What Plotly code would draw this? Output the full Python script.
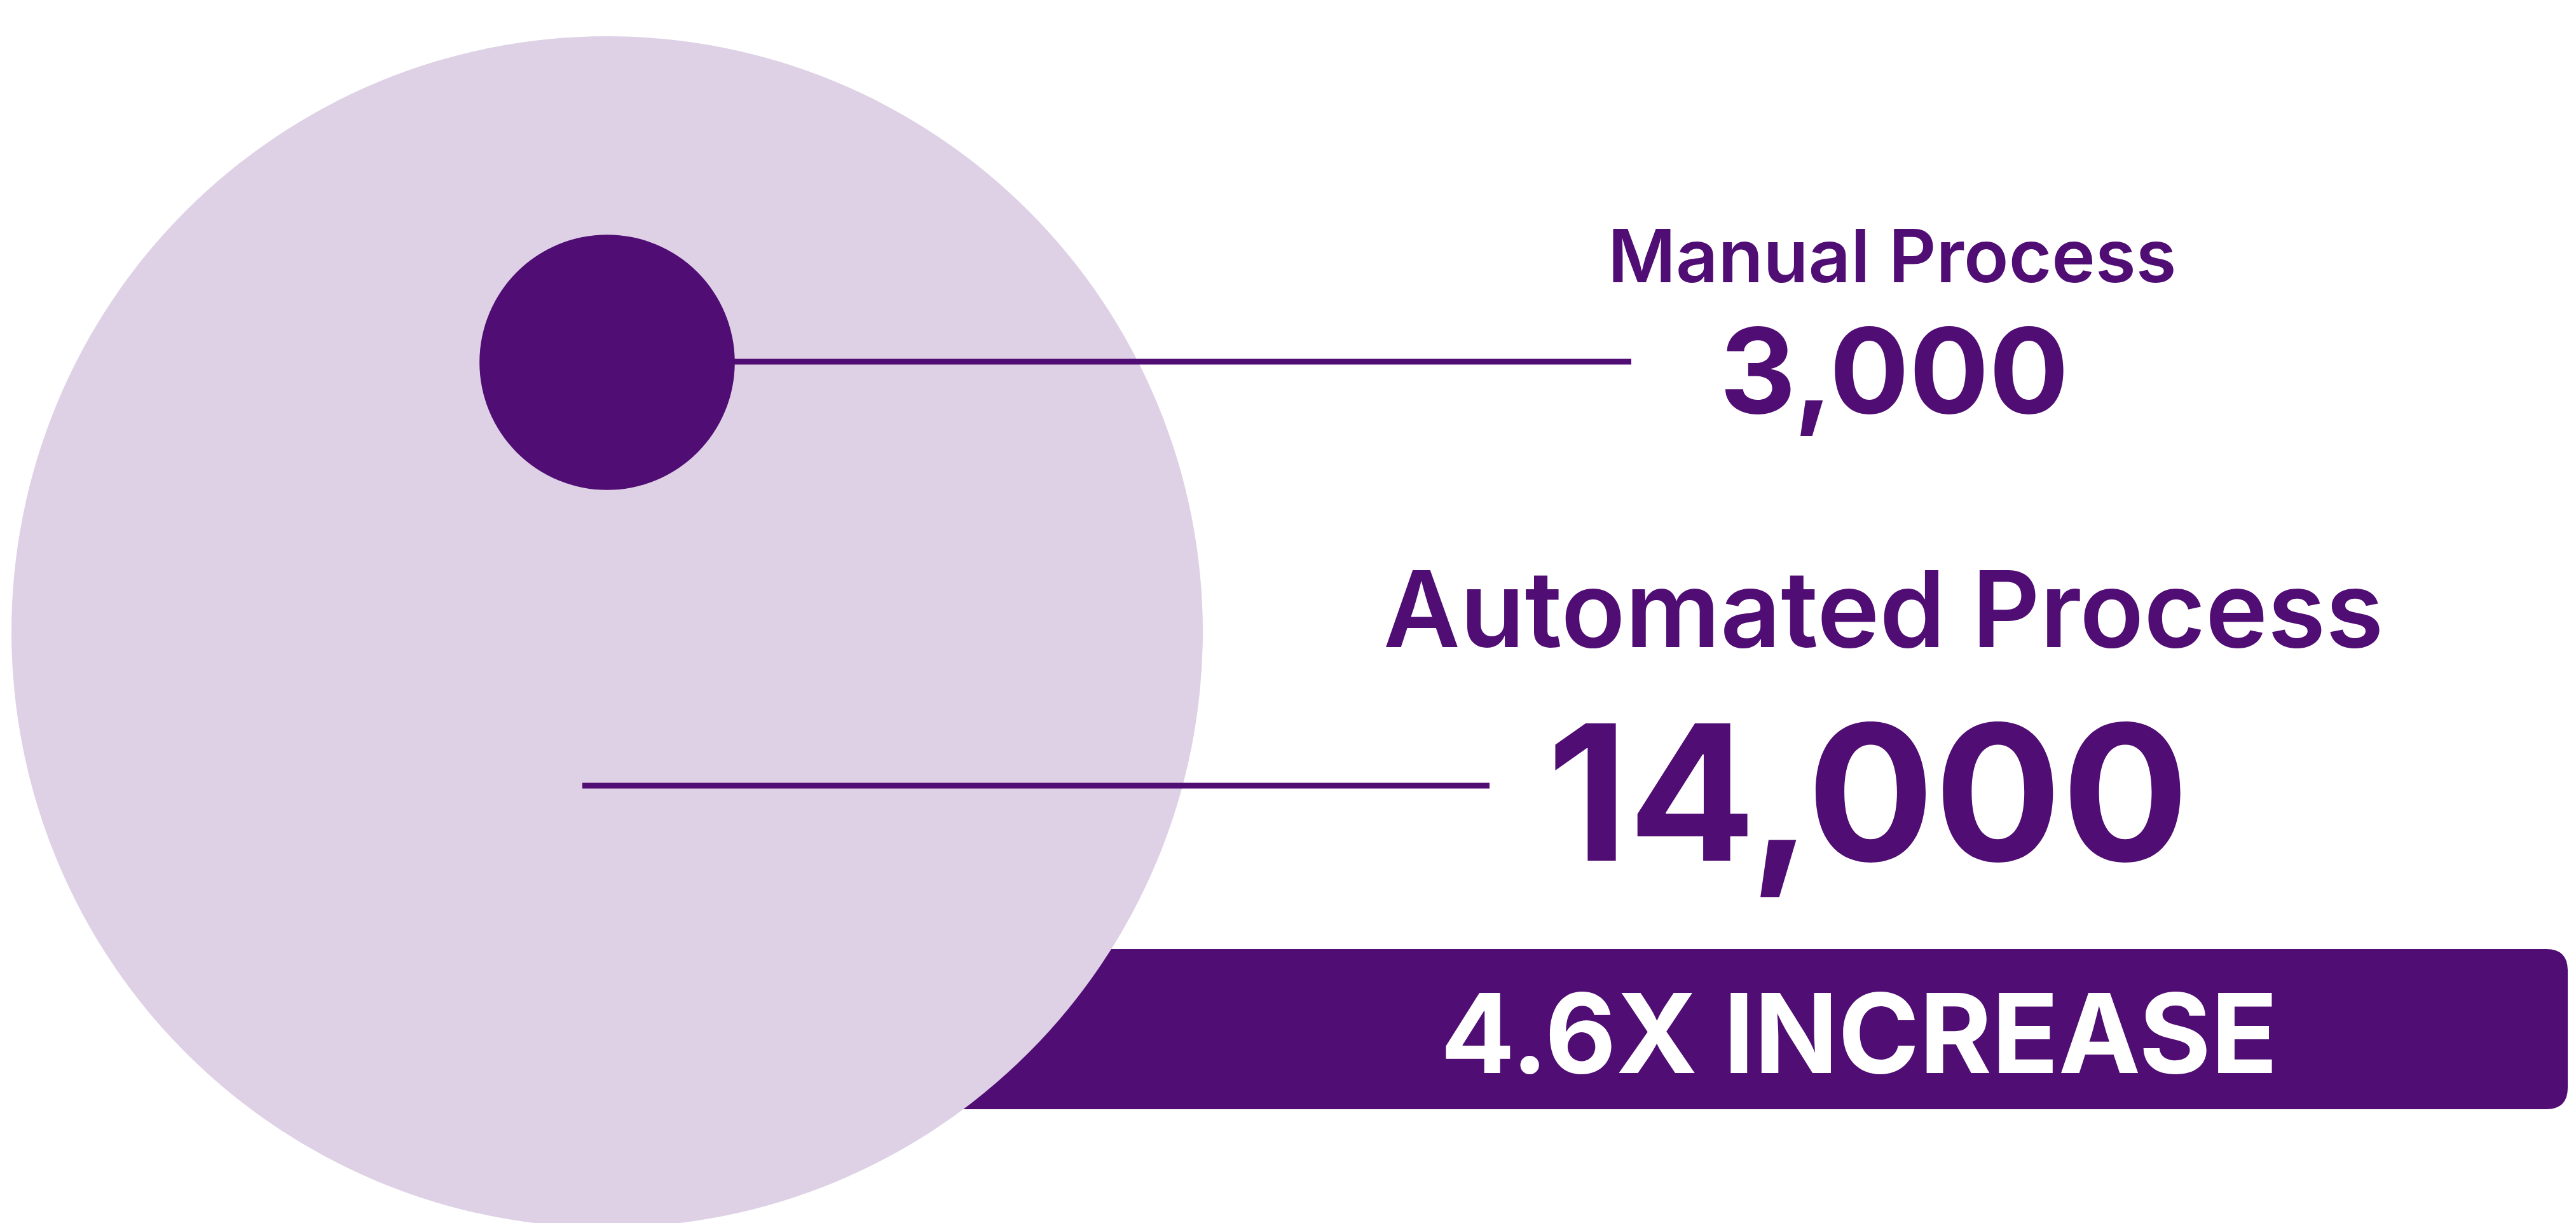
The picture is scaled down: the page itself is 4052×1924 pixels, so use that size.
import plotly.graph_objects as go

# ---- data ----
categories = ["Manual Process", "Automated Process"]
values = [3000, 14000]
value_labels = ["3,000", "14,000"]
ratio_label = "4.6X INCREASE"

# ---- style ----
W, H = 4052, 1924
OFF = 8  # page body margin compensation
DARK = "#500D73"
LIGHT = "#DED1E6"
FONT = "Inter"

px_per_unit = 937 / 14000  # circle radius scale (radius proportional to value)
cx, small_cy, big_cy = 955, 570, 994
r_small = values[0] * px_per_unit
r_big = values[1] * px_per_unit

shapes = []
x0, x1, y0, y1, rr = 1200, 4039, 1493, 1745, 34
path = (f"M {x0},{y0} L {x1-rr},{y0} Q {x1},{y0} {x1},{y0+rr} "
        f"L {x1},{y1-rr} Q {x1},{y1} {x1-rr},{y1} L {x0},{y1} Z")
shapes.append(dict(type="path", path=path, fillcolor=DARK, line=dict(width=0),
                   xref="x", yref="y"))
shapes.append(dict(type="circle", xref="x", yref="y",
                   x0=cx - r_big, x1=cx + r_big, y0=big_cy - r_big, y1=big_cy + r_big,
                   fillcolor=LIGHT, line=dict(width=0)))
shapes.append(dict(type="circle", xref="x", yref="y",
                   x0=cx - r_small, x1=cx + r_small, y0=small_cy - r_small, y1=small_cy + r_small,
                   fillcolor=DARK, line=dict(width=0)))
shapes.append(dict(type="line", xref="x", yref="y", x0=cx + r_small - 2, x1=2566,
                   y0=569, y1=569, line=dict(color=DARK, width=9)))
shapes.append(dict(type="line", xref="x", yref="y", x0=916, x1=2343,
                   y0=1236, y1=1236, line=dict(color=DARK, width=9)))

annotations = [
    dict(text=categories[0], x=2976, y=402, font=dict(size=116, color=DARK, family=FONT, weight=600)),
    dict(text=value_labels[0], x=2979, y=582, font=dict(size=186, color=DARK, family=FONT, weight=700)),
    dict(text=categories[1], x=2962, y=957, font=dict(size=166, color=DARK, family=FONT, weight=600)),
    dict(text=value_labels[1], x=2938, y=1246, font=dict(size=297, color=DARK, family=FONT, weight=700)),
    dict(text=ratio_label, x=2924, y=1625, font=dict(size=173, color="white", family=FONT, weight=700)),
]
for a in annotations:
    a.update(xref="x", yref="y", showarrow=False, xanchor="center", yanchor="middle")

fig = go.Figure()
fig.add_trace(go.Scatter(x=[0], y=[0], mode="markers", marker=dict(opacity=0), hoverinfo="skip", showlegend=False))
fig.update_layout(
    width=W, height=H, margin=dict(l=0, r=0, t=0, b=0),
    paper_bgcolor="white", plot_bgcolor="white",
    xaxis=dict(range=[OFF, W + OFF], visible=False, fixedrange=True),
    yaxis=dict(range=[H + OFF, OFF], visible=False, fixedrange=True),
    shapes=shapes, annotations=annotations, showlegend=False,
)
fig.write_html("out.html")
